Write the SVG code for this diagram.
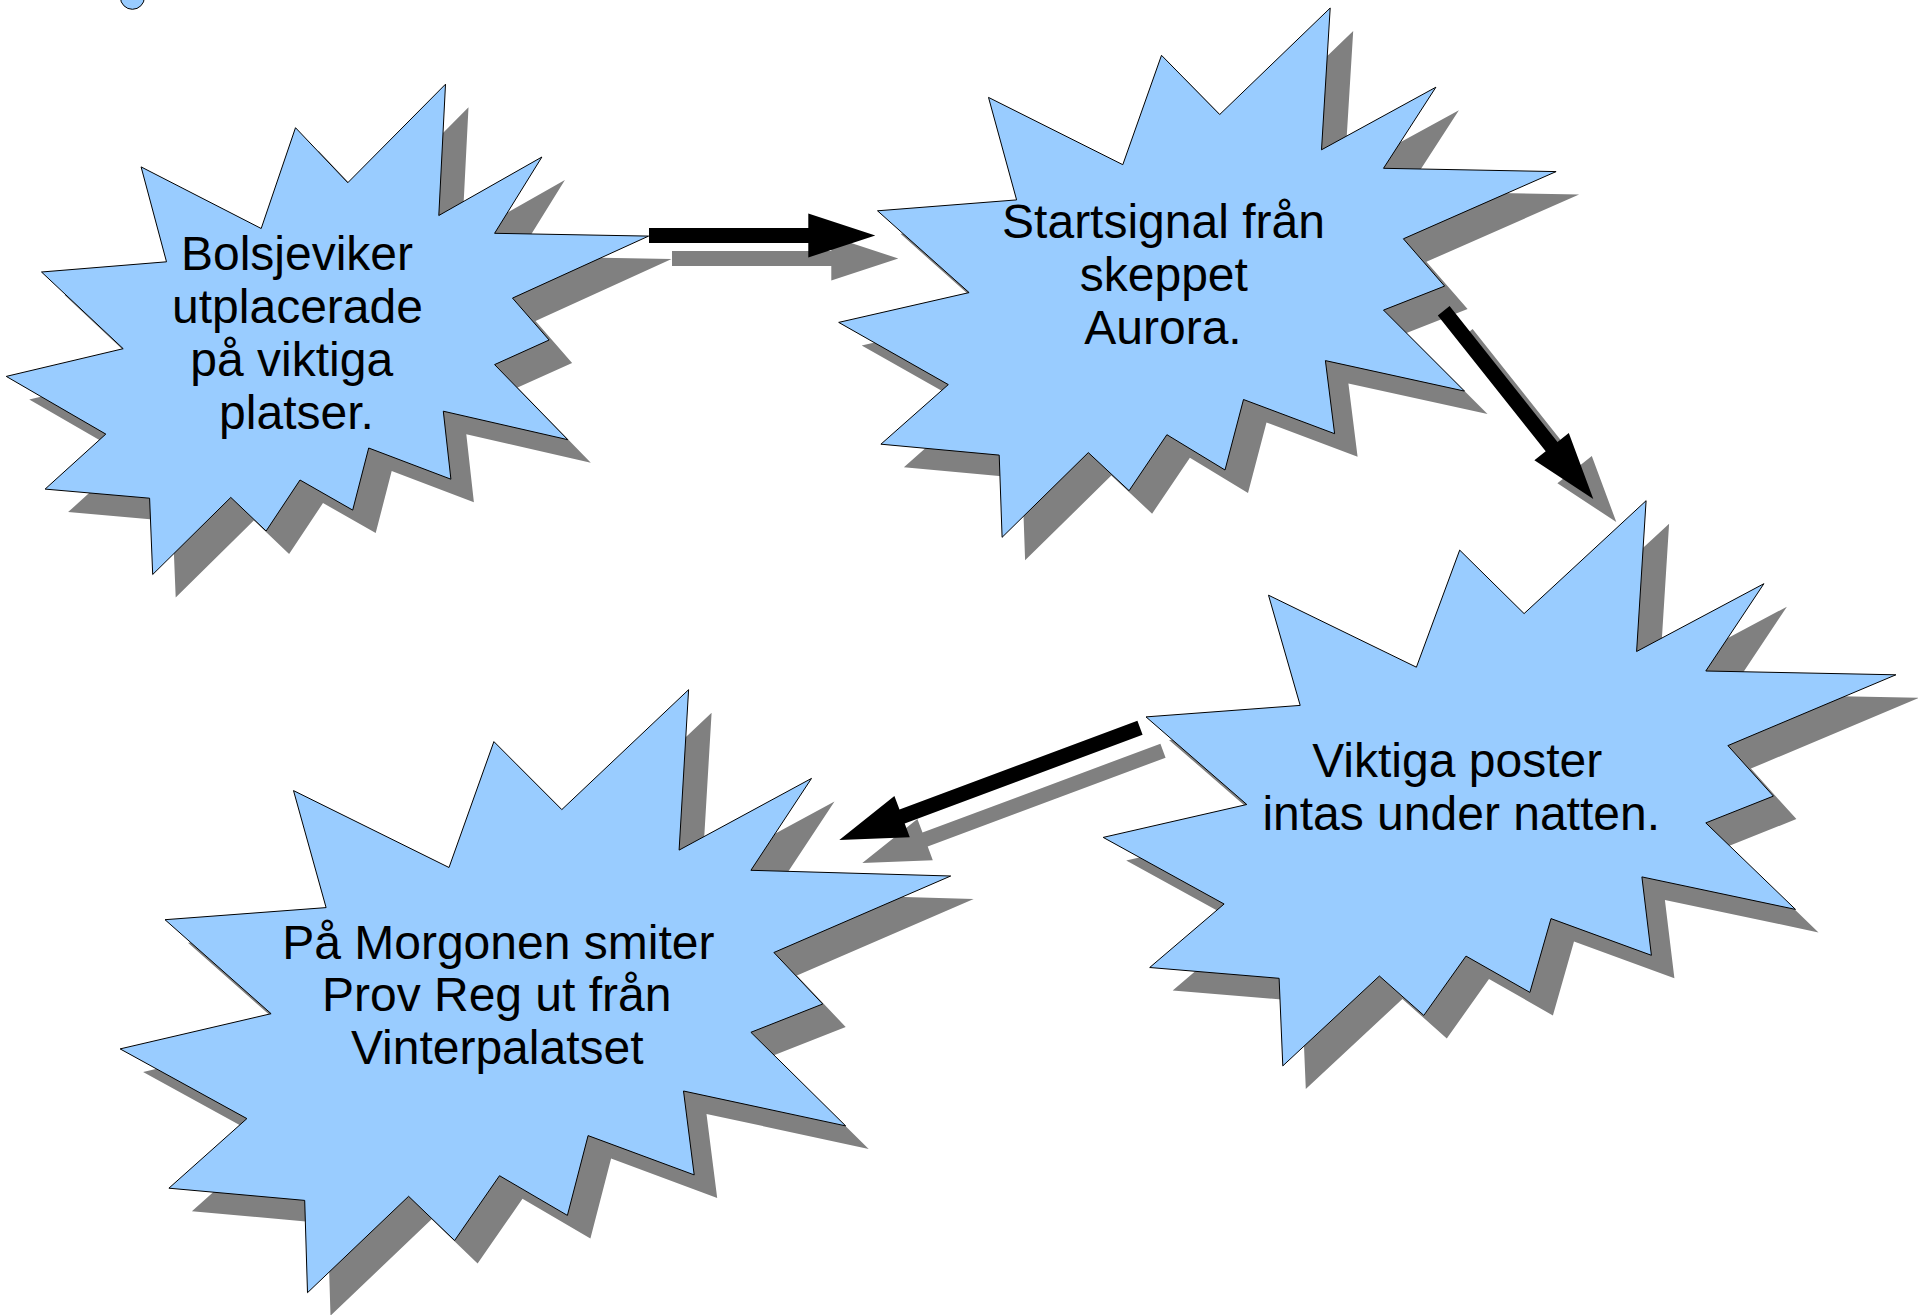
<svg xmlns="http://www.w3.org/2000/svg" xmlns:xlink="http://www.w3.org/1999/xlink" width="1918" height="1315" viewBox="0 0 1918 1315">
  <style>
    .shadow { fill: #808080; stroke: none; }
    .star { fill: #99ccff; stroke: #000000; stroke-width: 1; stroke-linejoin: miter; }
    .lbl { font-family: "Liberation Sans", Arial, sans-serif; font-size: 48px; fill: #000000; text-anchor: middle; }
    .arrow { fill: #000000; stroke: none; }
  </style>
  <defs>
    <polygon id="s1" points="445.5,84.2 438.8,215.5 541.9,157.0 494.6,233.3 648.6,236.1 512.5,298.1 549.1,340.0 494.6,364.6 567.8,439.7 443.3,411.2 450.9,479.2 368.7,448.0 352.7,510.1 300.0,480.0 266.1,531.0 230.8,497.4 152.7,574.5 149.6,498.2 45.1,489.1 105.8,434.1 6.25,376.4 123.2,348.7 41.5,272.0 166.5,261.8 141.1,166.9 261.2,228.5 295.5,127.7 347.8,182.7"/>
    <polygon id="s2" points="1330.2,8.0 1321.5,149.8 1435.9,87.2 1383.5,168.3 1556.1,171.6 1403.4,238.8 1444.6,286.1 1383.5,310.1 1464.5,391.1 1325.4,360.6 1334.6,433.7 1243.5,399.5 1225.0,470.0 1166.9,434.7 1129.1,490.7 1088.3,452.6 1002.1,537.3 999.2,455.1 880.9,444.2 948.3,384.6 838.7,322.4 969.1,292.6 877.5,210.8 1016.6,199.9 988.5,97.4 1122.8,164.7 1161.5,55.3 1219.7,114.5"/>
    <polygon id="s3" points="1646.1,500.7 1636.6,651.5 1763.9,583.7 1705.8,671.0 1895.9,674.8 1727.9,745.6 1773.4,796.1 1705.8,822.9 1795.5,909.4 1641.9,876.9 1651.4,955.3 1551.0,918.6 1529.9,992.4 1466.0,956.1 1423.8,1015.4 1379.4,976.0 1282.8,1065.9 1279.1,978.3 1149.7,967.5 1224.1,904.0 1103.2,837.4 1246.8,804.5 1146.0,716.9 1300.2,705.4 1268.5,595.2 1416.4,667.2 1459.7,550.1 1524.1,613.6"/>
    <polygon id="s4" points="688.6,689.7 679.1,850.1 811.5,778.4 750.9,870.3 950.7,876.0 773.9,952.5 822.7,1004.0 750.9,1032.3 845.7,1125.9 683.5,1091.0 694.2,1174.9 588.1,1135.6 567.4,1215.4 499.5,1175.7 454.6,1240.5 408.6,1196.3 307.5,1292.7 304.7,1200.4 168.9,1188.2 246.9,1118.6 120.1,1048.9 271.1,1013.7 165.0,919.7 326.1,907.6 293.5,790.6 449.0,867.5 493.9,741.6 561.8,809.6"/>
    <polygon id="a1" points="649,228 808.3,228 808.3,213.5 875.3,235.5 808.3,257.5 808.3,243 649,243"/>
    <polygon id="a2" points="1449.6,306.1 1557.5,441.9 1568.8,432.9 1593.3,499 1534.4,460.3 1545.7,451.3 1437.8,315.5"/>
    <polygon id="a3" points="1137.4,720.7 899.5,809.6 894.4,796.0 839.3,840 909.8,837.2 904.7,823.6 1142.6,734.7"/>
  </defs>
  <rect x="0" y="0" width="1918" height="1315" fill="#ffffff"/>

  <g id="dot">
    <circle cx="132.4" cy="-2.7" r="12" class="star"/>
  </g>

  <g id="node1">
    <use xlink:href="#s1" href="#s1" class="shadow" transform="translate(23,23)"/>
    <use xlink:href="#s1" href="#s1" class="star"/>
    <text class="lbl" x="297" y="269.5">Bolsjeviker</text>
    <text class="lbl" x="297.5" y="322.5">utplacerade</text>
    <text class="lbl" x="291.7" y="375.5">på viktiga</text>
    <text class="lbl" x="296.5" y="428.5">platser.</text>
  </g>

  <g id="node2">
    <use xlink:href="#s2" href="#s2" class="shadow" transform="translate(23,23)"/>
    <use xlink:href="#s2" href="#s2" class="star"/>
    <text class="lbl" x="1163.5" y="238">Startsignal från</text>
    <text class="lbl" x="1163.8" y="291">skeppet</text>
    <text class="lbl" x="1163" y="344">Aurora.</text>
  </g>

  <g id="node3">
    <use xlink:href="#s3" href="#s3" class="shadow" transform="translate(23,23)"/>
    <use xlink:href="#s3" href="#s3" class="star"/>
    <text class="lbl" x="1457.2" y="776.7">Viktiga poster</text>
    <text class="lbl" x="1461.2" y="829.5">intas under natten.</text>
  </g>

  <g id="node4">
    <use xlink:href="#s4" href="#s4" class="shadow" transform="translate(23,23)"/>
    <use xlink:href="#s4" href="#s4" class="star"/>
    <text class="lbl" x="498.3" y="958.7">På Morgonen smiter</text>
    <text class="lbl" x="496.7" y="1011.2">Prov Reg ut från</text>
    <text class="lbl" x="497.2" y="1063.7">Vinterpalatset</text>
  </g>

  <g id="connectors">
    <use xlink:href="#a1" href="#a1" class="shadow" transform="translate(23,23)"/>
    <use xlink:href="#a2" href="#a2" class="shadow" transform="translate(23,23)"/>
    <use xlink:href="#a3" href="#a3" class="shadow" transform="translate(23,23)"/>
    <use xlink:href="#a1" href="#a1" class="arrow"/>
    <use xlink:href="#a2" href="#a2" class="arrow"/>
    <use xlink:href="#a3" href="#a3" class="arrow"/>
  </g>
</svg>
